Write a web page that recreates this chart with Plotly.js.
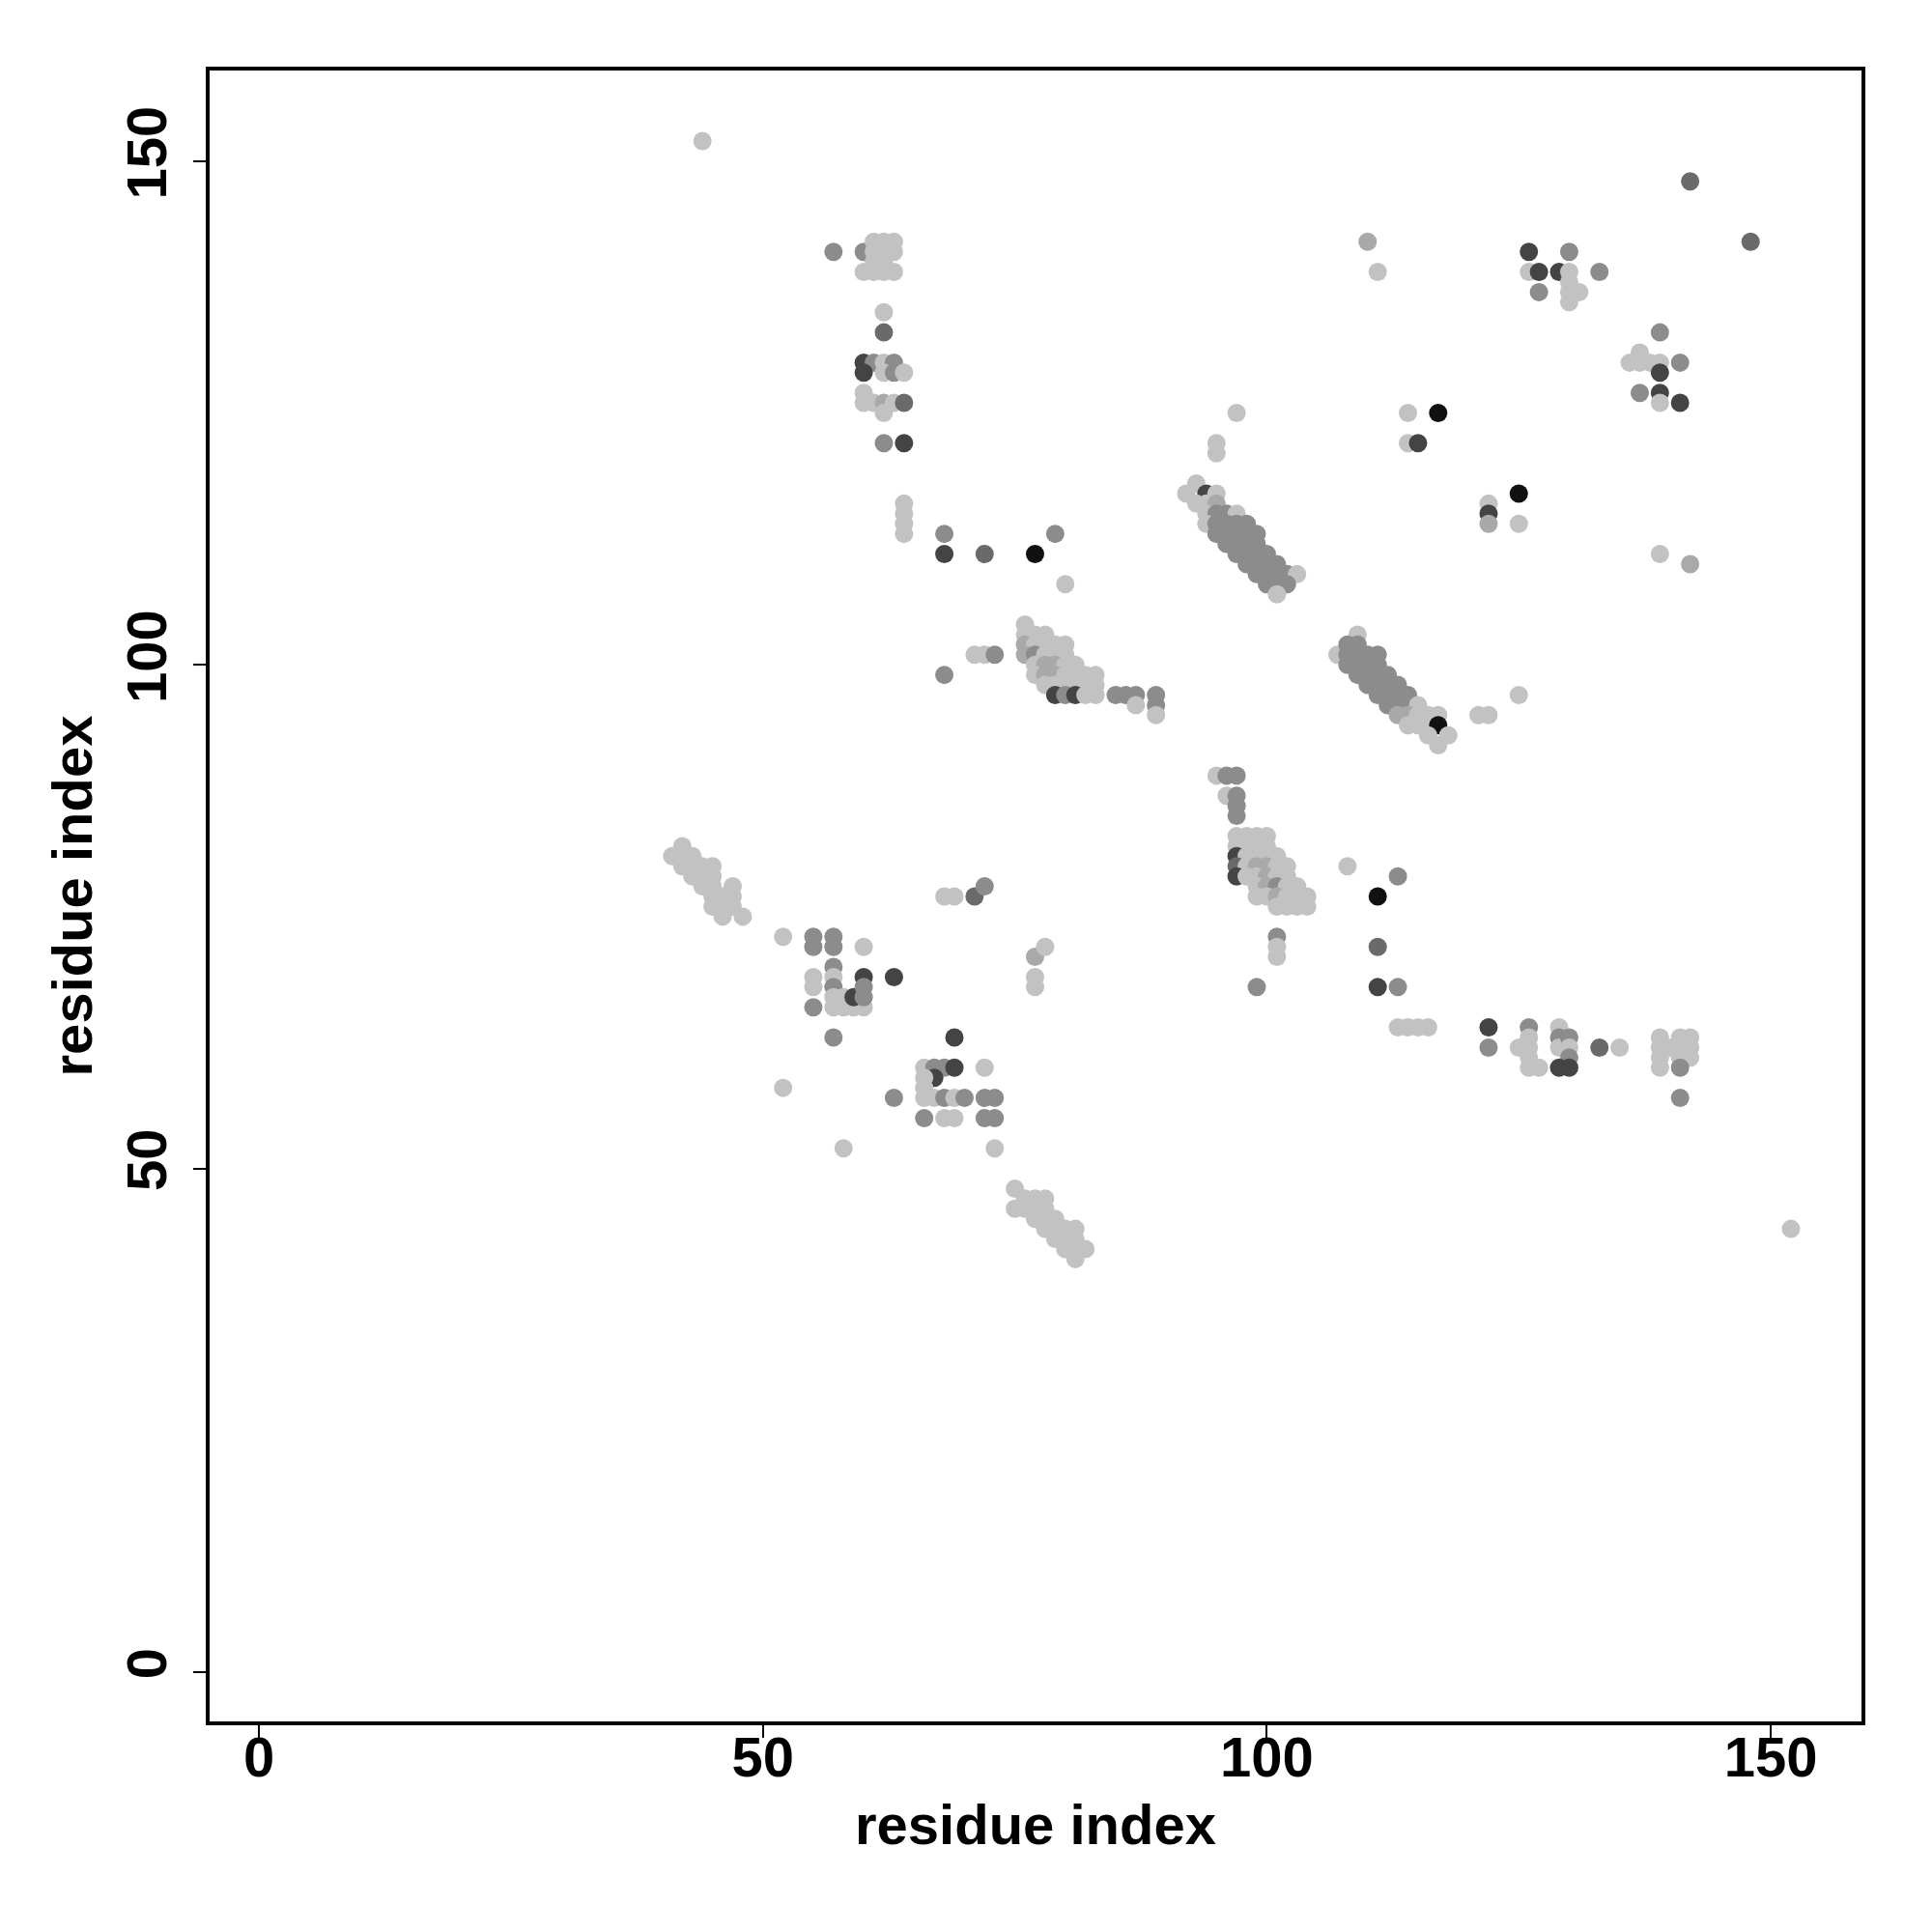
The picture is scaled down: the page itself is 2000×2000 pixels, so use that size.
<!DOCTYPE html>
<html>
<head>
<meta charset="utf-8">
<script src="https://cdn.plot.ly/plotly-3.0.1.min.js"></script>
<style>html,body{margin:0;padding:0;background:#fff;}</style>
</head>
<body>
<div id="chart" style="width:2000px;height:2000px;"></div>
<script>
// grey shade index: 0 light, 1 light-medium, 2 medium, 3 dark-medium, 4 dark, 5 black
const greys = ["#c2c2c2", "#a9a9a9", "#8c8c8c", "#6a6a6a", "#444444", "#111111"];

const px = [
  // top-left cluster
  57,60,61,62,63,61,62,63,61,62,60,61,62,63,62,62,60,61,62,63,60,62,63,64,60,60,61,62,63,64,62,62,64,64,64,64,64,
  // middle region
  68,68,72,77,79,80,71,72,73,68,
  76,76,77,78,76,77,78,79,80,76,77,78,79,80,77,78,79,80,81,77,78,79,80,81,82,83,78,79,80,81,82,83,79,80,81,82,83,
  85,86,87,87,89,89,89,
  // diagonal band 93-103
  97,95,95,93,92,94,95,93,94,95,94,95,96,97,94,95,96,97,98,95,96,97,98,99,96,97,98,99,97,98,99,100,98,99,100,101,99,100,101,102,103,100,101,102,101,
  // diagonal band 107-118
  109,107,108,109,108,109,110,111,108,109,110,111,109,110,111,112,110,111,112,113,111,112,113,114,112,113,114,115,113,114,115,116,117,114,115,116,117,116,118,117,121,122,125,
  // top right
  110,111,126,130,126,127,129,130,133,127,130,130,131,130,142,148,139,136,137,137,138,139,141,139,137,139,139,141,
  125,122,122,122,125,139,142,114,117,114,115,
  // lower middle 95-104
  95,96,97,96,97,97,97,97,98,99,100,97,98,99,100,97,98,99,100,101,97,98,99,100,101,102,97,98,99,100,101,102,99,100,101,102,103,99,100,101,102,103,104,101,102,103,104,101,101,101,99,
  // lower right
  108,113,111,111,111,113,113,114,115,116,122,122,126,125,126,126,126,126,127,129,129,129,130,130,130,129,130,133,135,
  139,139,139,139,140,141,142,141,142,141,142,141,141,152,
  // left lower
  44,42,41,42,43,42,43,44,45,43,44,45,44,45,47,45,46,47,45,46,47,46,48,
  68,69,71,72,77,78,77,77,
  52,55,55,57,57,60,55,55,55,57,57,57,57,57,58,59,60,58,59,60,60,60,63,57,52,63,58,
  69,66,67,68,69,67,72,66,66,66,67,68,69,70,72,73,66,68,69,72,73,73,
  75,76,77,78,75,76,77,78,77,78,79,78,79,80,81,79,80,81,80,81,82,81
];

const py = [
  141,141,142,142,142,141,141,141,140,140,139,139,139,139,135,133,130,130,130,130,129,129,129,129,127,126,126,126,126,126,125,122,122,116,115,114,113,
  113,111,111,111,113,108,101,101,101,99,
  104,103,103,103,102,102,102,102,102,101,101,101,101,101,100,100,100,100,100,99,99,99,99,99,99,99,98,98,98,98,98,98,97,97,97,97,97,
  97,97,97,96,97,96,95,
  125,122,121,118,117,117,117,116,116,116,115,115,115,115,114,114,114,114,114,113,113,113,113,113,112,112,112,112,111,111,111,111,110,110,110,110,109,109,109,109,109,108,108,108,107,
  103,101,102,102,101,101,101,101,100,100,100,100,99,99,99,99,98,98,98,98,97,97,97,97,96,96,96,96,95,95,95,95,95,94,94,94,94,93,93,92,95,95,97,
  142,139,141,141,139,139,139,139,139,137,138,137,137,136,148,142,133,130,131,130,130,130,130,129,127,127,126,126,
  117,116,115,114,114,111,110,125,125,122,122,
  89,89,89,87,87,86,85,83,83,83,83,82,82,82,82,81,81,81,81,81,80,80,80,80,80,80,79,79,79,79,79,79,78,78,78,78,78,77,77,77,77,77,77,76,76,76,76,73,72,71,68,
  80,79,77,72,68,68,64,64,64,64,64,62,64,62,63,62,61,60,60,64,63,62,63,62,61,60,60,62,62,
  63,62,61,60,62,63,63,62,62,61,61,60,57,44,
  152,82,81,81,81,80,80,80,80,79,79,79,78,78,78,77,77,77,76,76,76,75,75,
  77,77,77,78,71,72,69,68,
  73,73,72,73,72,72,69,68,66,70,69,68,67,66,66,66,66,67,67,69,68,67,69,63,58,57,52,
  63,60,60,60,60,59,60,59,58,57,57,57,57,57,57,57,55,55,55,55,55,52,
  48,47,47,47,46,46,46,46,45,45,45,44,44,44,44,43,43,43,42,42,42,41
];

const pg = [
  2,2,0,0,0,0,0,0,0,0,0,0,0,0,0,3,4,2,0,2,4,0,2,0,0,0,0,1,0,3,0,2,4,0,0,0,0,
  2,4,3,5,2,0,0,0,2,2,
  0,0,0,0,1,0,0,0,0,1,2,0,0,0,0,1,1,0,0,0,1,1,0,0,0,0,0,0,0,0,0,0,4,2,4,0,0,
  2,2,2,0,2,2,0,
  0,0,0,0,0,4,0,0,0,1,0,2,2,0,0,2,2,2,2,2,2,2,2,2,2,2,2,2,2,2,2,2,2,2,2,2,2,2,2,2,0,2,2,2,0,
  0,0,2,2,2,2,2,2,2,2,2,2,2,2,2,2,2,2,2,2,2,2,2,2,2,2,2,0,1,1,0,0,0,0,0,0,5,0,0,0,0,0,0,
  1,0,4,2,0,4,4,0,2,2,0,0,0,0,3,3,2,0,0,0,0,0,2,4,2,4,0,4,
  5,0,4,1,0,0,1,0,5,0,4,
  0,2,2,0,2,2,2,0,0,0,0,0,0,0,0,4,0,0,0,0,3,0,1,1,0,0,4,0,0,1,0,0,0,1,2,0,0,0,0,1,0,0,0,0,0,0,0,2,0,0,2,
  0,2,5,3,4,2,0,0,0,0,4,2,2,0,0,0,0,0,0,0,2,0,2,0,2,4,4,3,0,
  0,0,0,0,0,0,0,0,0,0,0,2,2,0,
  0,0,0,0,0,0,0,0,0,0,0,0,0,0,0,0,0,0,0,0,0,0,0,
  0,0,3,2,1,0,0,0,
  0,2,2,2,2,0,0,0,2,2,0,2,0,0,0,0,0,0,4,4,2,2,4,2,0,2,0,
  4,0,2,2,4,4,0,0,0,0,0,2,0,2,2,2,2,0,0,2,2,0,
  0,0,0,0,0,0,0,0,0,0,0,0,0,0,0,0,0,0,0,0,0,0
];

const xTicks = [0, 50, 100, 150];
const yTicks = [0, 50, 100, 150];
const axisLabel = "residue index";

const font = {family: "Liberation Sans, Arial, Helvetica, sans-serif", size: 58, color: "#000", weight: "bold"};

const trace = {
  type: "scatter",
  mode: "markers",
  x: px,
  y: py,
  marker: {size: 19, color: pg.map(g => greys[g]), line: {width: 0}},
  hoverinfo: "x+y"
};

const axisCommon = {
  showgrid: false,
  zeroline: false,
  showline: true,
  mirror: true,
  linecolor: "#000",
  linewidth: 4,
  ticks: "outside",
  ticklen: 13,
  tickwidth: 2,
  tickcolor: "#000",
  tickfont: font,
  tickmode: "array"
};

const layout = {
  width: 2000,
  height: 2000,
  margin: {l: 217, r: 73, t: 73, b: 218},
  paper_bgcolor: "#fff",
  plot_bgcolor: "#fff",
  showlegend: false,
  xaxis: Object.assign({}, axisCommon, {
    range: [-4.9, 159.0],
    tickvals: xTicks,
    ticktext: xTicks.map(String),
    ticklabelstandoff: -30,
    title: {text: axisLabel, font: font, standoff: 20}
  }),
  yaxis: Object.assign({}, axisCommon, {
    range: [-4.9, 159.0],
    tickvals: yTicks,
    ticktext: yTicks.map(String),
    tickangle: -90,
    ticklabelstandoff: 5,
    title: {text: axisLabel, font: font, standoff: 5}
  })
};

Plotly.newPlot("chart", [trace], layout, {displayModeBar: false, staticPlot: true});
</script>
</body>
</html>
